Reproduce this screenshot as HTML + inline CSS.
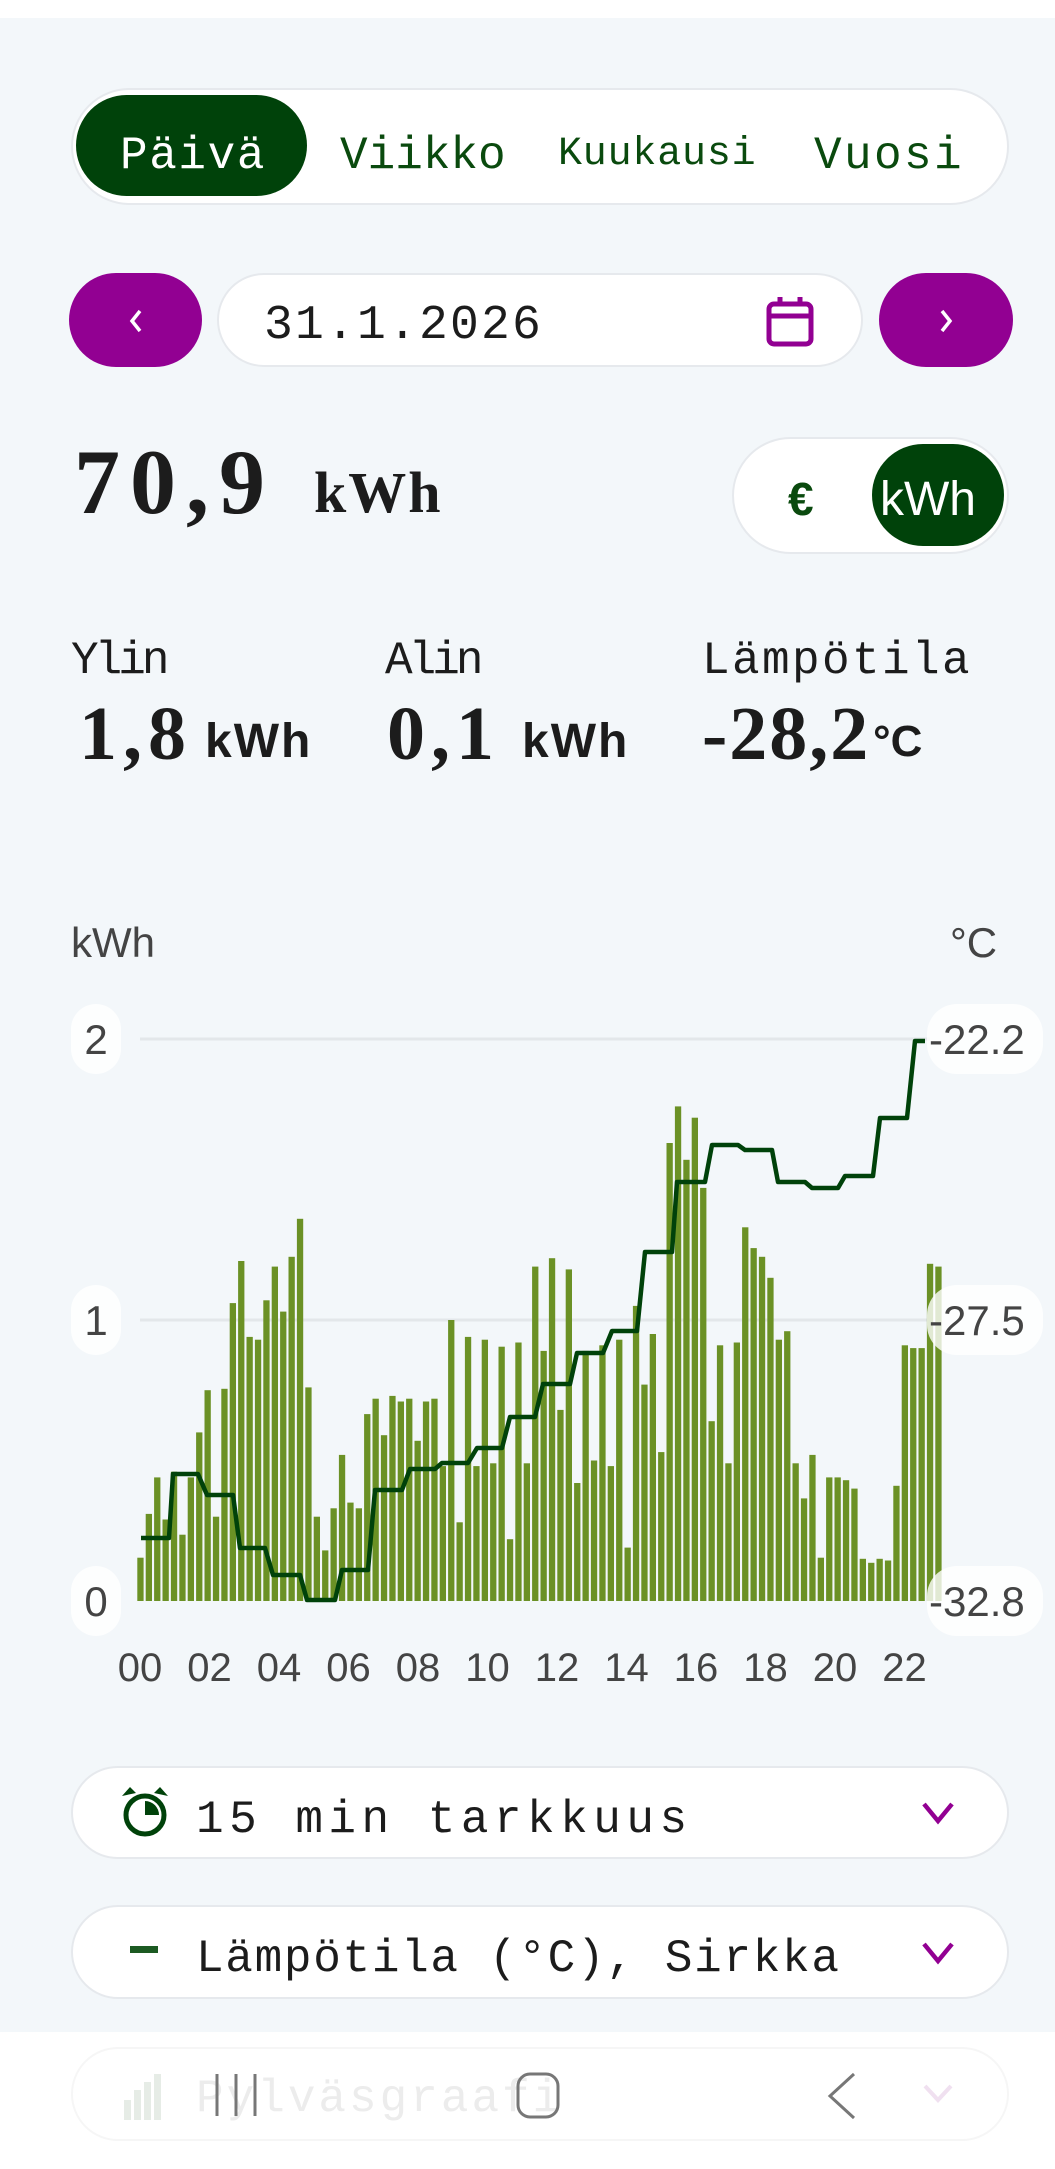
<!DOCTYPE html>
<html><head><meta charset="utf-8">
<style>
*{margin:0;padding:0;box-sizing:border-box}
body{width:1055px;height:2169px;background:#f3f7fa;position:relative;overflow:hidden;font-family:"Liberation Mono",monospace}
.a{position:absolute;line-height:1;white-space:nowrap}
.mono{font-family:"Liberation Mono",monospace}
.sans{font-family:"Liberation Sans",sans-serif}
.serif{font-family:"Liberation Serif",serif;font-weight:bold;color:#1c1c1c}
.box{position:absolute;background:#fff;border:2px solid #e6e9ed}
</style></head><body>
<div class="a" style="left:0;top:0;width:1055px;height:18px;background:#fff"></div>

<!-- segmented -->
<div class="box" style="left:71px;top:88px;width:938px;height:117px;border-radius:59px"></div>
<div class="a" style="left:76px;top:95px;width:231px;height:101px;border-radius:51px;background:#00420a"></div>
<div class="a mono" style="left:120px;top:133px;font-size:46px;letter-spacing:1.6px;color:#fff">Päivä</div>
<div class="a mono" style="left:340px;top:133px;font-size:46px;color:#0a4a0e">Viikko</div>
<div class="a mono" style="left:558px;top:135px;font-size:40px;letter-spacing:0.8px;color:#0a4a0e">Kuukausi</div>
<div class="a mono" style="left:814px;top:133px;font-size:46px;letter-spacing:2.4px;color:#0a4a0e">Vuosi</div>

<!-- date row -->
<div class="a" style="left:69px;top:273px;width:133px;height:94px;border-radius:47px;background:#920092"></div>
<svg class="a" style="left:124px;top:308px" width="24" height="26"><path d="M16 3 L8 13 L16 23" stroke="#fff" stroke-width="3.5" fill="none"/></svg>
<div class="box" style="left:217px;top:273px;width:646px;height:94px;border-radius:47px"></div>
<div class="a mono" style="left:264px;top:302px;font-size:48px;letter-spacing:2.2px;color:#1c1c1c">31.1.2026</div>
<svg class="a" style="left:765px;top:294px" width="52" height="56"><rect x="4" y="10" width="42" height="40" rx="5" stroke="#920092" stroke-width="5" fill="none"/><line x1="4" y1="22" x2="46" y2="22" stroke="#920092" stroke-width="5"/><line x1="15" y1="3" x2="15" y2="12" stroke="#920092" stroke-width="5"/><line x1="35" y1="3" x2="35" y2="12" stroke="#920092" stroke-width="5"/></svg>
<div class="a" style="left:879px;top:273px;width:134px;height:94px;border-radius:47px;background:#920092"></div>
<svg class="a" style="left:934px;top:308px" width="24" height="26"><path d="M8 3 L16 13 L8 23" stroke="#fff" stroke-width="3.5" fill="none"/></svg>

<!-- total -->
<div class="a serif" style="left:74px;top:436px;font-size:92px;letter-spacing:10px">70,9</div>
<div class="a serif" style="left:314px;top:464px;font-size:58px;letter-spacing:2px">kWh</div>
<div class="box" style="left:732px;top:437px;width:277px;height:117px;border-radius:59px"></div>
<div class="a sans" style="left:788px;top:476px;font-size:46px;font-weight:bold;color:#0a4a0e">€</div>
<div class="a" style="left:872px;top:444px;width:132px;height:102px;border-radius:51px;background:#00420a"></div>
<div class="a sans" style="left:880px;top:476px;font-size:48px;color:#fff">kWh</div>

<!-- stats -->
<div class="a mono" style="left:71px;top:638px;font-size:46px;letter-spacing:-4px;color:#1c1c1c">Ylin</div>
<div class="a mono" style="left:385px;top:638px;font-size:46px;letter-spacing:-4px;color:#1c1c1c">Alin</div>
<div class="a mono" style="left:702px;top:638px;font-size:46px;letter-spacing:2.4px;color:#1c1c1c">Lämpötila</div>
<div class="a serif" style="left:79px;top:696px;font-size:76px;letter-spacing:6px">1,8</div>
<div class="a sans" style="left:205px;top:718px;font-size:48px;font-weight:bold;letter-spacing:2px;color:#1c1c1c">kWh</div>
<div class="a serif" style="left:387px;top:696px;font-size:76px;letter-spacing:6px">0,1</div>
<div class="a sans" style="left:522px;top:718px;font-size:48px;font-weight:bold;letter-spacing:2px;color:#1c1c1c">kWh</div>
<div class="a serif" style="left:702px;top:696px;font-size:76px;letter-spacing:2px">-28,2</div>
<div class="a sans" style="left:873px;top:720px;font-size:44px;font-weight:bold;color:#1c1c1c">°C</div>

<!-- chart -->
<svg class="a" style="left:0;top:0" width="1055" height="1720" font-family="Liberation Sans, sans-serif">
<text x="71" y="957" font-size="42" fill="#444">kWh</text>
<text x="950" y="957" font-size="42" fill="#444">°C</text>
<g stroke="#e3e7ea" stroke-width="3"><line x1="140" y1="1039" x2="930" y2="1039"/><line x1="140" y1="1320" x2="930" y2="1320"/></g>
<g fill="#6b9125">
<rect x="137.3" y="1557.7" width="6.3" height="43.3"/><rect x="145.7" y="1513.9" width="6.3" height="87.1"/><rect x="154.1" y="1477.4" width="6.3" height="123.6"/><rect x="162.5" y="1519.5" width="6.3" height="81.5"/><rect x="170.9" y="1471.7" width="6.3" height="129.3"/><rect x="179.3" y="1534.7" width="6.3" height="66.3"/><rect x="187.7" y="1477.4" width="6.3" height="123.6"/><rect x="196.1" y="1432.4" width="6.3" height="168.6"/><rect x="204.5" y="1390.2" width="6.3" height="210.8"/><rect x="212.9" y="1516.7" width="6.3" height="84.3"/>
<rect x="221.3" y="1388.8" width="6.3" height="212.2"/><rect x="229.7" y="1303.1" width="6.3" height="297.9"/><rect x="238.1" y="1261" width="6.3" height="340"/><rect x="246.5" y="1336.9" width="6.3" height="264.1"/><rect x="254.9" y="1339.7" width="6.3" height="261.3"/><rect x="263.3" y="1300.3" width="6.3" height="300.7"/><rect x="271.7" y="1266.6" width="6.3" height="334.4"/><rect x="280.1" y="1311.6" width="6.3" height="289.4"/><rect x="288.5" y="1256.8" width="6.3" height="344.2"/><rect x="296.9" y="1218.8" width="6.3" height="382.2"/>
<rect x="305.3" y="1387.4" width="6.3" height="213.6"/><rect x="313.7" y="1516.7" width="6.3" height="84.3"/><rect x="322.1" y="1550.4" width="6.3" height="50.6"/><rect x="330.5" y="1508.3" width="6.3" height="92.7"/><rect x="338.9" y="1454.9" width="6.3" height="146.1"/><rect x="347.3" y="1502.6" width="6.3" height="98.4"/><rect x="355.7" y="1508.3" width="6.3" height="92.7"/><rect x="364.1" y="1414.1" width="6.3" height="186.9"/><rect x="372.5" y="1398.7" width="6.3" height="202.3"/><rect x="380.9" y="1435.2" width="6.3" height="165.8"/>
<rect x="389.3" y="1395.9" width="6.3" height="205.1"/><rect x="397.7" y="1401.5" width="6.3" height="199.5"/><rect x="406.1" y="1398.7" width="6.3" height="202.3"/><rect x="414.5" y="1440.8" width="6.3" height="160.2"/><rect x="422.9" y="1401.5" width="6.3" height="199.5"/><rect x="431.3" y="1398.7" width="6.3" height="202.3"/><rect x="439.7" y="1466.1" width="6.3" height="134.9"/><rect x="448.1" y="1320" width="6.3" height="281"/><rect x="456.5" y="1522.3" width="6.3" height="78.7"/><rect x="464.9" y="1336.9" width="6.3" height="264.1"/>
<rect x="473.3" y="1466.1" width="6.3" height="134.9"/><rect x="481.7" y="1339.7" width="6.3" height="261.3"/><rect x="490.1" y="1463.3" width="6.3" height="137.7"/><rect x="498.5" y="1346.7" width="6.3" height="254.3"/><rect x="506.9" y="1539.2" width="6.3" height="61.8"/><rect x="515.3" y="1342.5" width="6.3" height="258.5"/><rect x="523.7" y="1463.3" width="6.3" height="137.7"/><rect x="532.1" y="1266.6" width="6.3" height="334.4"/><rect x="540.5" y="1350.9" width="6.3" height="250.1"/><rect x="548.9" y="1258.2" width="6.3" height="342.8"/>
<rect x="557.3" y="1409.9" width="6.3" height="191.1"/><rect x="565.7" y="1269.4" width="6.3" height="331.6"/><rect x="574.1" y="1483" width="6.3" height="118"/><rect x="582.5" y="1350.9" width="6.3" height="250.1"/><rect x="590.9" y="1460.5" width="6.3" height="140.5"/><rect x="599.3" y="1345.3" width="6.3" height="255.7"/><rect x="607.7" y="1466.1" width="6.3" height="134.9"/><rect x="616.1" y="1339.7" width="6.3" height="261.3"/><rect x="624.5" y="1547.6" width="6.3" height="53.4"/><rect x="632.9" y="1305.9" width="6.3" height="295.1"/>
<rect x="641.3" y="1384.6" width="6.3" height="216.4"/><rect x="649.7" y="1334" width="6.3" height="267"/><rect x="658.1" y="1452.1" width="6.3" height="148.9"/><rect x="666.5" y="1143" width="6.3" height="458"/><rect x="674.9" y="1106.4" width="6.3" height="494.6"/><rect x="683.3" y="1159.8" width="6.3" height="441.2"/><rect x="691.7" y="1117.7" width="6.3" height="483.3"/><rect x="700.1" y="1187.9" width="6.3" height="413.1"/><rect x="708.5" y="1421.2" width="6.3" height="179.8"/><rect x="716.9" y="1345.3" width="6.3" height="255.7"/>
<rect x="725.3" y="1463.3" width="6.3" height="137.7"/><rect x="733.7" y="1342.5" width="6.3" height="258.5"/><rect x="742.1" y="1227.3" width="6.3" height="373.7"/><rect x="750.5" y="1248.1" width="6.3" height="352.9"/><rect x="758.9" y="1256.8" width="6.3" height="344.2"/><rect x="767.3" y="1277.8" width="6.3" height="323.2"/><rect x="775.7" y="1339.7" width="6.3" height="261.3"/><rect x="784.1" y="1331.2" width="6.3" height="269.8"/><rect x="792.5" y="1463.3" width="6.3" height="137.7"/><rect x="800.9" y="1498.4" width="6.3" height="102.6"/>
<rect x="809.3" y="1454.9" width="6.3" height="146.1"/><rect x="817.7" y="1557.7" width="6.3" height="43.3"/><rect x="826.1" y="1477.4" width="6.3" height="123.6"/><rect x="834.5" y="1477.4" width="6.3" height="123.6"/><rect x="842.9" y="1480.2" width="6.3" height="120.8"/><rect x="851.3" y="1488.6" width="6.3" height="112.4"/><rect x="859.7" y="1558.8" width="6.3" height="42.2"/><rect x="868.1" y="1562.8" width="6.3" height="38.2"/><rect x="876.5" y="1558.8" width="6.3" height="42.2"/><rect x="884.9" y="1560.5" width="6.3" height="40.5"/>
<rect x="893.3" y="1485.8" width="6.3" height="115.2"/><rect x="901.7" y="1345.3" width="6.3" height="255.7"/><rect x="910.1" y="1348.1" width="6.3" height="252.9"/><rect x="918.5" y="1348.1" width="6.3" height="252.9"/><rect x="926.9" y="1263.8" width="6.3" height="337.2"/><rect x="935.3" y="1266.6" width="6.3" height="334.4"/>
</g>
<path d="M141,1538 L169,1538 L173,1474 L198,1474 L207,1495 L233,1495 L240,1548 L265,1548 L273,1575 L300,1575 L307,1600 L335,1600 L342,1570 L368,1570 L375,1490 L402,1490 L410,1469 L435,1469 L442,1463 L468,1463 L477,1448 L502,1448 L510,1417 L535,1417 L543,1384 L570,1384 L577,1353 L603,1353 L612,1331 L637,1331 L645,1252 L672,1252 L677,1182 L705,1182 L712,1145 L738,1145 L745,1150 L772,1150 L778,1182 L805,1182 L812,1188 L838,1188 L845,1176 L873,1176 L880,1118 L907,1118 L915,1041 L925,1041" stroke="#00420a" stroke-width="4.5" fill="none" stroke-linejoin="round"/>
<g fill="#fff" fill-opacity="0.8">
<rect x="71" y="1004" width="50" height="70" rx="25"/><rect x="71" y="1285" width="50" height="70" rx="25"/><rect x="71" y="1566" width="50" height="70" rx="25"/>
<rect x="927" y="1004" width="116" height="70" rx="30"/><rect x="927" y="1285" width="116" height="70" rx="30"/><rect x="927" y="1566" width="116" height="70" rx="30"/>
</g>
<g font-size="42" fill="#444">
<text x="96" y="1054" text-anchor="middle">2</text><text x="96" y="1335" text-anchor="middle">1</text><text x="96" y="1616" text-anchor="middle">0</text>
<text x="929" y="1054">-22.2</text><text x="929" y="1335">-27.5</text><text x="929" y="1616">-32.8</text>
</g>
<g font-size="40" fill="#444" text-anchor="middle">
<text x="140" y="1681">00</text><text x="209.5" y="1681">02</text><text x="279" y="1681">04</text><text x="348.5" y="1681">06</text><text x="418" y="1681">08</text><text x="487.5" y="1681">10</text><text x="557" y="1681">12</text><text x="626.5" y="1681">14</text><text x="696" y="1681">16</text><text x="765.5" y="1681">18</text><text x="835" y="1681">20</text><text x="904.5" y="1681">22</text>
</g>
</svg>

<!-- selects -->
<div class="box" style="left:71px;top:1766px;width:938px;height:93px;border-radius:47px"></div>
<svg class="a" style="left:116px;top:1784px" width="58" height="58"><path d="M6 12 L14 3 L20 9Z M52 12 L44 3 L38 9Z" fill="#00420a"/><circle cx="29" cy="31" r="19" stroke="#00420a" stroke-width="5" fill="none"/><path d="M29 31 L29 17 A14 14 0 0 1 43 31Z" fill="#00420a"/></svg>
<div class="a mono" style="left:196px;top:1797px;font-size:46px;letter-spacing:5.5px;color:#1c1c1c">15 min tarkkuus</div>
<svg class="a" style="left:920px;top:1800px" width="36" height="26"><path d="M4 4 L18 21 L32 4" stroke="#920092" stroke-width="4.5" fill="none"/></svg>

<div class="box" style="left:71px;top:1905px;width:938px;height:94px;border-radius:47px"></div>
<div class="a" style="left:130px;top:1946px;width:28px;height:7px;background:#1c5a22"></div>
<div class="a mono" style="left:196px;top:1936px;font-size:46px;letter-spacing:1.7px;color:#1c1c1c">Lämpötila (°C), Sirkka</div>
<svg class="a" style="left:920px;top:1940px" width="36" height="26"><path d="M4 4 L18 21 L32 4" stroke="#920092" stroke-width="4.5" fill="none"/></svg>

<!-- bottom nav -->
<div class="a" style="left:0;top:2032px;width:1055px;height:137px;background:#fff"></div>
<div class="a" style="left:71px;top:2047px;width:938px;height:94px;border-radius:47px;border:2px solid #f6f6f6"></div>
<div class="a mono" style="left:196px;top:2076px;font-size:46px;letter-spacing:3px;color:#ececec">Pylväsgraafi</div>
<svg class="a" style="left:120px;top:2072px" width="50" height="50"><g fill="#e6ece6"><rect x="4" y="28" width="7" height="20"/><rect x="14" y="18" width="7" height="30"/><rect x="24" y="10" width="7" height="38"/><rect x="34" y="2" width="7" height="46"/></g></svg>
<svg class="a" style="left:0;top:2060px" width="1055" height="70"><g stroke="#777" stroke-width="3" fill="none"><line x1="217" y1="14" x2="217" y2="56"/><line x1="236" y1="14" x2="236" y2="56"/><line x1="255" y1="14" x2="255" y2="56"/><rect x="518" y="14" width="40" height="43" rx="12"/><path d="M854 14 L830 36 L854 58"/></g><path d="M925 26 L938 40 L951 26" stroke="#f0e0f0" stroke-width="4" fill="none"/></svg>
</body></html>
